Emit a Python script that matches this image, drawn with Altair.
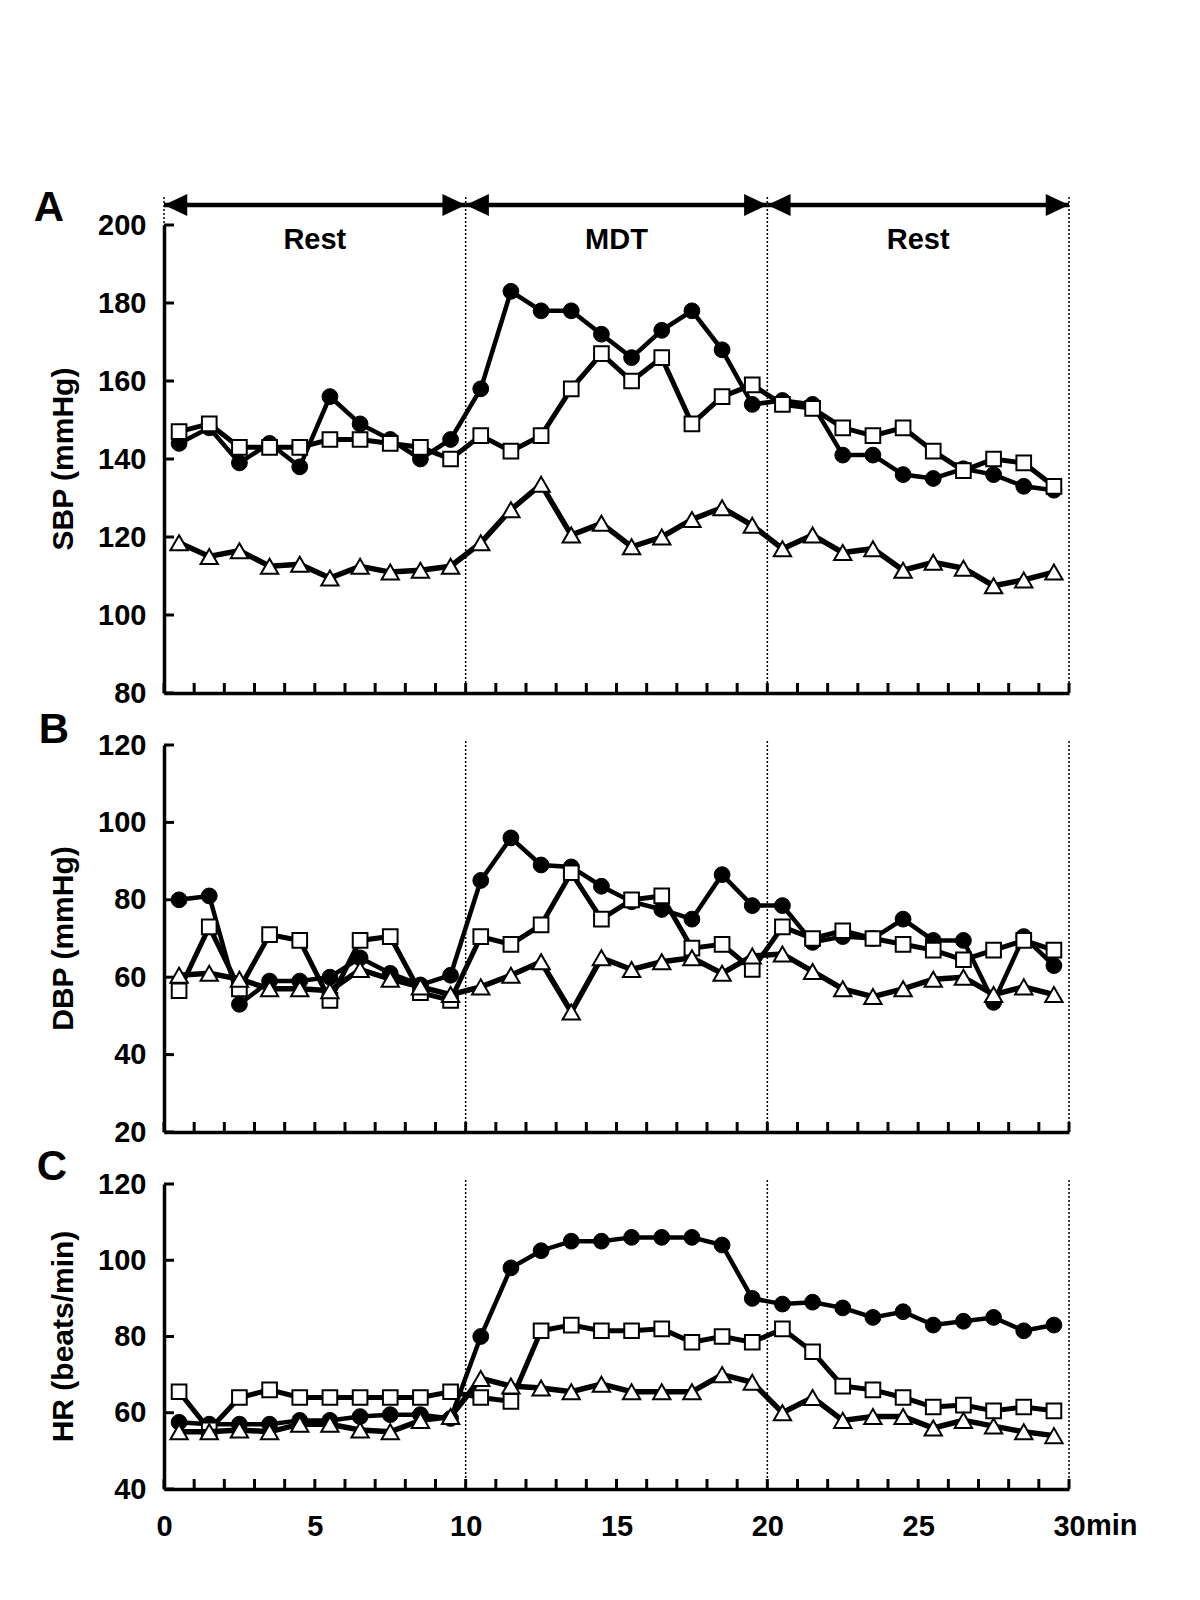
import altair as alt
import pandas as pd

FONT = "Liberation Sans"

minutes = [0.5, 1.5, 2.5, 3.5, 4.5, 5.5, 6.5, 7.5, 8.5, 9.5,
           10.5, 11.5, 12.5, 13.5, 14.5, 15.5, 16.5, 17.5, 18.5, 19.5,
           20.5, 21.5, 22.5, 23.5, 24.5, 25.5, 26.5, 27.5, 28.5, 29.5]

sbp_circle = [144, 148, 139, 144, 138, 156, 149, 145, 140, 145,
              158, 183, 178, 178, 172, 166, 173, 178, 168, 154,
              155, 154, 141, 141, 136, 135, 137.5, 136, 133, 132]
sbp_square = [147, 149, 143, 143, 143, 145, 145, 144, 143, 140,
              146, 142, 146, 158, 167, 160, 166, 149, 156, 159,
              154, 153, 148, 146, 148, 142, 137, 140, 139, 133]
sbp_tri = [118.5, 115, 116.5, 112.5, 113, 109.5, 112.5, 111, 111.5, 112.5,
           118.5, 127, 133.5, 120.5, 123.5, 117.5, 120, 124.5, 127.5, 123,
           117, 120.5, 116, 117, 111.5, 113.5, 112, 107.5, 109, 111]

dbp_circle = [80, 81, 53, 59, 59, 60, 65, 61, 58, 60.5,
              85, 96, 89, 88.5, 83.5, 79.5, 77.5, 75, 86.5, 78.5,
              78.5, 69, 70.5, 70, 75, 69.5, 69.5, 53.5, 70.5, 63]
dbp_square = [56.5, 73, 57, 71, 69.5, 54, 69.5, 70.5, 56, 54,
              70.5, 68.5, 73.5, 87, 75, 80, 81, 67.5, 68.5, 62,
              73, 70, 72, 70, 68.5, 67, 64.5, 67, 69.5, 67]
dbp_tri = [60.5, 61, 59.5, 57, 57, 56.5, 62, 59.5, 57.5, 55.5,
           57.5, 60.5, 64, 51, 65, 62, 64, 65, 61, 65.5,
           66, 61.5, 57, 55, 57, 59.5, 60, 55.5, 57.5, 55.5]

hr_circle = [57.5, 57, 57, 57, 58, 58, 59, 59.5, 59.5, 58.5,
             80, 98, 102.5, 105, 105, 106, 106, 106, 104, 90,
             88.5, 89, 87.5, 85, 86.5, 83, 84, 85, 81.5, 83]
hr_square = [65.5, 55.5, 64, 66, 64, 64, 64, 64, 64, 65.5,
             64, 63, 81.5, 83, 81.5, 81.5, 82, 78.5, 80, 78.5,
             82, 76, 67, 66, 64, 61.5, 62, 60.5, 61.5, 60.5]
hr_tri = [55, 55, 55.5, 55, 57, 57, 55.5, 55, 58, 59,
          69, 67, 66.5, 65.5, 67.5, 65.5, 65.5, 65.5, 70, 68,
          60, 64, 58, 59, 59, 56, 58, 56.5, 55, 54]

x_minor_ticks = [0, 1, 2, 3, 4, 5, 6, 7, 8, 9, 10, 11, 12, 13, 14, 15,
                 16, 17, 18, 19, 20, 21, 22, 23, 24, 25, 26, 27, 28, 29, 30]
x_label_values = [0, 5, 10, 15, 20, 25, 30]
yticks_a = [80, 100, 120, 140, 160, 180, 200]
yticks_b = [20, 40, 60, 80, 100, 120]
yticks_c = [40, 60, 80, 100, 120]

phase_names = ["Rest", "MDT", "Rest"]
phase_start = [0, 10, 20]
phase_end = [10, 20, 30]
phase_mid = [5, 15, 25]
boundaries_a = [0, 10, 20, 30]
boundaries_bc = [10, 20, 30]

W = 905
TICKFONT = 29

xscale = alt.Scale(domain=[0, 30], nice=False, zero=False)


def make_panel(circ, sq, tri, ydom, yticks, H, ytitle, letter, letter_pos,
               show_xlabels, bounds, dotted_top, top_extra=None):
    yscale = alt.Scale(domain=ydom, nice=False, zero=False)
    xaxis = alt.Axis(values=x_label_values, labels=show_xlabels, ticks=False,
                     tickSize=0, grid=False, domainColor="black",
                     domainWidth=3.5, labelFont=FONT, labelFontSize=TICKFONT,
                     labelFontWeight="bold", labelColor="black",
                     labelPadding=23, labelFlush=False, labelOverlap=False)
    yaxis = alt.Axis(values=yticks, ticks=False, tickSize=0, grid=False,
                     domainColor="black", domainWidth=3.5, labelFont=FONT,
                     labelFontSize=TICKFONT, labelFontWeight="bold",
                     labelColor="black", labelPadding=18, labelFlush=False,
                     labelOverlap=False)

    def X(field):
        return alt.X(field, scale=xscale, axis=xaxis, title=None)

    def Y(field):
        return alt.Y(field, scale=yscale, axis=yaxis, title=None)

    layers = []
    bdf = pd.DataFrame({"b": bounds})
    layers.append(alt.Chart(bdf).mark_rule(color="black", strokeWidth=1.5,
                                            strokeDash=[2, 2]).encode(
        x=X("b:Q"), y=alt.value(dotted_top), y2=alt.value(H)))

    if top_extra is not None:
        layers.extend(top_extra)

    def series(vals, shape, fill, size, lw, sw):
        df = pd.DataFrame({"t": minutes, "v": vals})
        base = alt.Chart(df).encode(x=X("t:Q"), y=Y("v:Q"))
        line = base.mark_line(color="black", strokeWidth=lw)
        pts = base.mark_point(shape=shape, filled=True, fill=fill,
                              stroke="black", strokeWidth=sw, size=size,
                              opacity=1)
        return [line, pts]

    layers += series(circ, "circle", "black", 250, 4.5, 1)
    layers += series(sq, "square", "white", 215, 5, 2)
    layers += series(tri, "triangle-up", "white", 300, 5.5, 2)

    xtdf = pd.DataFrame({"x": x_minor_ticks})
    layers.append(alt.Chart(xtdf).mark_rule(color="black", strokeWidth=3).encode(
        x=X("x:Q"), y=alt.value(H), y2=alt.value(H - 10)))
    ytdf = pd.DataFrame({"y": yticks})
    layers.append(alt.Chart(ytdf).mark_rule(color="black", strokeWidth=3).encode(
        y=Y("y:Q"), x=alt.value(0), x2=alt.value(10)))

    layers.append(alt.Chart(pd.DataFrame({"s": [ytitle]})).mark_text(
        font=FONT, fontSize=30, fontWeight="bold", angle=270, align="center",
        baseline="middle", color="black").encode(
        text="s:N", x=alt.value(-100), y=alt.value(H / 2)))
    layers.append(alt.Chart(pd.DataFrame({"s": [letter]})).mark_text(
        font=FONT, fontSize=42, fontWeight="bold", align="center",
        baseline="middle", color="black").encode(
        text="s:N", x=alt.value(letter_pos[0]), y=alt.value(letter_pos[1])))

    return alt.layer(*layers).properties(width=W, height=H)


phase_df = pd.DataFrame({"name": phase_names, "start": phase_start,
                         "end": phase_end, "mid": phase_mid})
ARROW_Y = -20
arrow_line = alt.Chart(phase_df).mark_rule(color="black", strokeWidth=4.5).encode(
    x=alt.X("start:Q", scale=xscale, title=None),
    x2="end:Q", y=alt.value(ARROW_Y))
left_head = alt.Chart(phase_df).mark_point(
    shape="M0,0L2,-0.95L2,0.95Z", filled=True, fill="black", strokeWidth=0,
    size=540, opacity=1).encode(
    x=alt.X("start:Q", scale=xscale, title=None), y=alt.value(ARROW_Y))
right_head = alt.Chart(phase_df).mark_point(
    shape="M0,0L-2,-0.95L-2,0.95Z", filled=True, fill="black", strokeWidth=0,
    size=540, opacity=1).encode(
    x=alt.X("end:Q", scale=xscale, title=None), y=alt.value(ARROW_Y))
phase_text = alt.Chart(phase_df).mark_text(
    font=FONT, fontSize=29, fontWeight="bold", align="center",
    baseline="middle", color="black").encode(
    x=alt.X("mid:Q", scale=xscale, title=None), y=alt.value(15), text="name:N")
anchor = alt.Chart(pd.DataFrame({"a": [0]})).mark_rule(
    color="white", strokeWidth=1).encode(
    x=alt.value(-155), x2=alt.value(-155), y=alt.value(-216), y2=alt.value(-216))

panel_a = make_panel(sbp_circle, sbp_square, sbp_tri, [80, 200], yticks_a, 468,
                     "SBP (mmHg)", "A", (-115, -17), False, boundaries_a, -28,
                     [anchor, arrow_line, left_head, right_head, phase_text])

panel_b = make_panel(dbp_circle, dbp_square, dbp_tri, [20, 120], yticks_b, 387,
                     "DBP (mmHg)", "B", (-110, -15), False, boundaries_bc, -4)

min_text = alt.Chart(pd.DataFrame({"v": [30], "s": ["min"]})).mark_text(
    font=FONT, fontSize=TICKFONT, fontWeight="bold", align="left",
    baseline="top", color="black", dx=17).encode(
    x=alt.X("v:Q", scale=xscale, title=None), y=alt.value(305 + 23), text="s:N")

panel_c = make_panel(hr_circle, hr_square, hr_tri, [40, 120], yticks_c, 305,
                     "HR (beats/min)", "C", (-112, -17), True, boundaries_bc, -4,
                     [min_text])

chart = alt.vconcat(panel_a, panel_b, panel_c, spacing=52,
                    bounds="flush").properties(padding=0).configure_view(
    strokeWidth=0)

chart.save("out.html", embed_options={"renderer": "svg", "actions": False})
